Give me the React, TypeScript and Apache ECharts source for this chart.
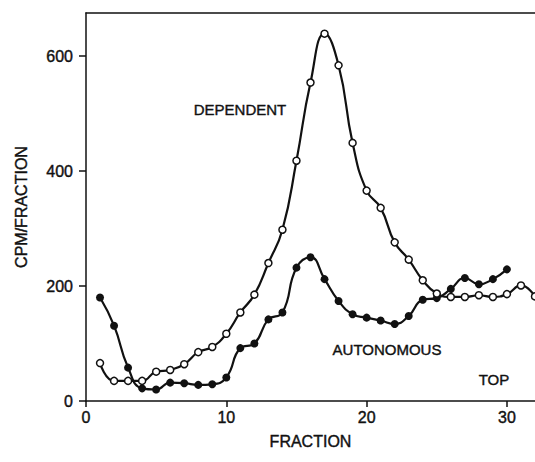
import React, { useEffect, useRef } from "react";
import * as echarts from "echarts";

const dependentFractions = [1, 2, 3, 4, 5, 6, 7, 8, 9, 10, 11, 12, 13, 14, 15, 16, 17, 18, 19, 20, 21, 22, 23, 24, 25, 26, 27, 28, 29, 30, 31, 32];
const dependentCpm = [66, 35, 35, 35, 51, 54, 64, 85, 94, 117, 154, 185, 240, 298, 418, 554, 639, 584, 449, 366, 336, 276, 246, 210, 187, 181, 181, 184, 181, 186, 201, 182];

const autonomousFractions = [1, 2, 3, 4, 5, 6, 7, 8, 9, 10, 11, 12, 13, 14, 15, 16, 17, 18, 19, 20, 21, 22, 23, 24, 25, 26, 27, 28, 29, 30];
const autonomousCpm = [180, 131, 58, 22, 20, 32, 31, 28, 29, 41, 92, 100, 142, 154, 232, 250, 212, 174, 151, 145, 140, 134, 148, 176, 179, 195, 214, 203, 212, 229];

const xTicks = [0, 10, 20, 30];
const yTicks = [0, 200, 400, 600];

const annotations = [
  { text: "DEPENDENT", x: 240, y: 109 },
  { text: "AUTONOMOUS", x: 387, y: 349 },
  { text: "TOP", x: 494, y: 379 },
];

const FONT = "'Liberation Sans', Arial, sans-serif";
const INK = "#111";
const TEXT_EDGE = { textBorderColor: INK, textBorderWidth: 0.4 };

export default function App() {
  const ref = useRef<HTMLDivElement>(null);

  useEffect(() => {
    if (!ref.current) return;
    const chart = echarts.init(ref.current, undefined, { renderer: "svg" });
    const zip = (xs: number[], ys: number[]) => xs.map((x, i) => [x, ys[i]]);
    chart.setOption({
      animation: false,
      backgroundColor: "#fff",
      textStyle: { fontFamily: FONT, color: INK },
      grid: { left: 86, top: 13, right: 0, bottom: 61 },
      xAxis: [
        {
          type: "value",
          min: 0,
          max: 32,
          position: "bottom",
          name: "FRACTION",
          nameLocation: "middle",
          nameGap: 32,
          nameTextStyle: { fontSize: 16, color: INK, fontFamily: FONT, ...TEXT_EDGE },
          axisLine: { show: true, onZero: false, lineStyle: { color: INK, width: 1.5 } },
          axisTick: { show: true, length: 6, lineStyle: { color: INK, width: 1.5 }, customValues: xTicks },
          axisLabel: { fontSize: 16, color: INK, margin: 8, fontFamily: FONT, customValues: xTicks, ...TEXT_EDGE },
          splitLine: { show: false },
        },
        {
          type: "value",
          min: 0,
          max: 32,
          position: "top",
          axisLine: { show: true, onZero: false, lineStyle: { color: INK, width: 1.5 } },
          axisTick: { show: false },
          axisLabel: { show: false },
          splitLine: { show: false },
        },
      ],
      yAxis: {
        type: "value",
        min: 0,
        max: 675,
        name: "CPM/FRACTION",
        nameLocation: "middle",
        nameRotate: 90,
        nameGap: 57,
        nameTextStyle: { fontSize: 16, color: INK, fontFamily: FONT, ...TEXT_EDGE },
        axisLine: { show: true, onZero: false, lineStyle: { color: INK, width: 1.5 } },
        axisTick: { show: true, length: 7, lineStyle: { color: INK, width: 1.5 }, customValues: yTicks },
        axisLabel: { fontSize: 16, color: INK, margin: 13, fontFamily: FONT, customValues: yTicks, ...TEXT_EDGE },
        splitLine: { show: false },
      },
      series: [
        {
          name: "Dependent",
          type: "line",
          data: zip(dependentFractions, dependentCpm),
          smooth: 0.5,
          symbol: "circle",
          symbolSize: 7,
          lineStyle: { color: INK, width: 2.2 },
          itemStyle: { color: "#fff", borderColor: INK, borderWidth: 1.5 },
          z: 3,
        },
        {
          name: "Autonomous",
          type: "line",
          data: zip(autonomousFractions, autonomousCpm),
          smooth: 0.5,
          symbol: "circle",
          symbolSize: 8,
          lineStyle: { color: INK, width: 2.2 },
          itemStyle: { color: INK, borderColor: INK, borderWidth: 0 },
          z: 2,
        },
      ],
      graphic: annotations.map((a) => ({
        type: "text",
        x: a.x,
        y: a.y,
        style: {
          text: a.text,
          fontSize: 15,
          fontFamily: FONT,
          fill: INK,
          stroke: INK,
          lineWidth: 0.4,
          textAlign: "center",
          textVerticalAlign: "middle",
        },
      })),
    });
    return () => chart.dispose();
  }, []);

  return (
    <div
      ref={ref}
      style={{ position: "fixed", left: 0, top: 0, width: 535, height: 462 }}
    />
  );
}
